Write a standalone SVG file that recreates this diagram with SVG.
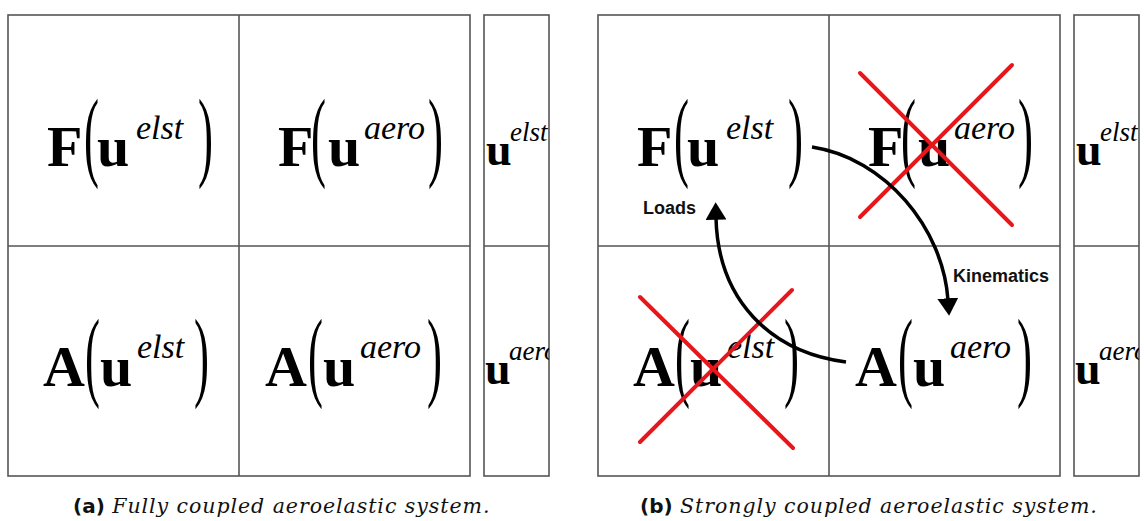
<svg xmlns="http://www.w3.org/2000/svg" width="1144" height="521" viewBox="0 0 1144 521">
<style>
.box{fill:#fff;stroke:#555;stroke-width:1.6}
.ln{stroke:#555;stroke-width:1.6;fill:none}
.big{font-family:"Liberation Serif","Times New Roman",serif;font-weight:bold;font-size:58px;fill:#000}
.sup{font-family:"Liberation Serif","Times New Roman",serif;font-style:italic;font-size:34px;fill:#000}
.par{font-family:"Liberation Serif","Times New Roman",serif;font-size:100px;fill:#000}
.ubig{font-family:"Liberation Serif","Times New Roman",serif;font-weight:bold;font-size:46px;fill:#000}
.usup{font-family:"Liberation Serif","Times New Roman",serif;font-style:italic;font-size:27px;fill:#000}
.x{stroke:#e8161b;stroke-width:4;stroke-linecap:round}
.arr{stroke:#000;stroke-width:3.5;fill:none}
.lbl{font-family:"Liberation Sans",Arial,sans-serif;font-weight:bold;font-size:18px;fill:#111}
.capb{font-family:"DejaVu Sans",sans-serif;font-weight:bold;font-size:20px;fill:#111}
.capi{font-family:"DejaVu Serif",serif;font-style:italic;font-size:20.5px;letter-spacing:0.95px;fill:#111}
</style>
<defs>
<marker id="ah" markerWidth="5" markerHeight="6" refX="0.5" refY="3" orient="auto" markerUnits="strokeWidth">
<path d="M0,0 L5,3 L0,6 Z" fill="#000"/>
</marker>
<clipPath id="ca"><rect x="484" y="246" width="65" height="230"/></clipPath>
<clipPath id="cb"><rect x="1074" y="246" width="65" height="230"/></clipPath>
</defs>

<!-- Panel (a) -->
<g id="panel-a-grid">
<rect class="box" x="8" y="15" width="462" height="461"/>
<line class="ln" x1="239" y1="15" x2="239" y2="476"/>
<line class="ln" x1="8" y1="246" x2="470" y2="246"/>
<rect class="box" x="484" y="15" width="65" height="461"/>
<line class="ln" x1="484" y1="246" x2="549" y2="246"/>
</g>
<g id="a-F-elst">
<text class="big" x="47" y="166">F</text>
<text class="par" transform="translate(84,168) scale(0.45,1)">(</text>
<text class="big" x="97" y="166">u</text>
<text class="sup" x="136" y="139">elst</text>
<text class="par" transform="translate(198,168) scale(0.45,1)">)</text>
</g>
<g id="a-F-aero">
<text class="big" x="278" y="166">F</text>
<text class="par" transform="translate(311,168) scale(0.45,1)">(</text>
<text class="big" x="328" y="166">u</text>
<text class="sup" x="364" y="139">aero</text>
<text class="par" transform="translate(428,168) scale(0.45,1)">)</text>
</g>
<g id="a-A-elst">
<text class="big" x="43" y="386">A</text>
<text class="par" transform="translate(85,388) scale(0.45,1)">(</text>
<text class="big" x="100" y="386">u</text>
<text class="sup" x="137" y="358">elst</text>
<text class="par" transform="translate(194,388) scale(0.45,1)">)</text>
</g>
<g id="a-A-aero">
<text class="big" x="265" y="386">A</text>
<text class="par" transform="translate(308,388) scale(0.45,1)">(</text>
<text class="big" x="323" y="386">u</text>
<text class="sup" x="360" y="358">aero</text>
<text class="par" transform="translate(427,388) scale(0.45,1)">)</text>
</g>
<g id="a-u-elst">
<text class="ubig" x="486" y="165">u</text>
<text class="usup" x="510" y="141">elst</text>
</g>
<g id="a-u-aero" clip-path="url(#ca)">
<text class="ubig" x="485" y="384">u</text>
<text class="usup" x="509" y="360">aero</text>
</g>

<!-- Panel (b) -->
<g id="panel-b-grid">
<rect class="box" x="598" y="15" width="462" height="461"/>
<line class="ln" x1="829" y1="15" x2="829" y2="476"/>
<line class="ln" x1="598" y1="246" x2="1060" y2="246"/>
<rect class="box" x="1074" y="15" width="65" height="461"/>
<line class="ln" x1="1074" y1="246" x2="1139" y2="246"/>
</g>
<g id="b-F-elst">
<text class="big" x="637" y="166">F</text>
<text class="par" transform="translate(674,168) scale(0.45,1)">(</text>
<text class="big" x="687" y="166">u</text>
<text class="sup" x="726" y="139">elst</text>
<text class="par" transform="translate(788,168) scale(0.45,1)">)</text>
</g>
<g id="b-F-aero">
<text class="big" x="868" y="166">F</text>
<text class="par" transform="translate(901,168) scale(0.45,1)">(</text>
<text class="big" x="918" y="166">u</text>
<text class="sup" x="954" y="139">aero</text>
<text class="par" transform="translate(1018,168) scale(0.45,1)">)</text>
<line class="x" x1="860" y1="73" x2="1012" y2="225"/>
<line class="x" x1="1012" y1="65" x2="860" y2="217"/>
</g>
<g id="b-A-elst">
<text class="big" x="633" y="386">A</text>
<text class="par" transform="translate(675,388) scale(0.45,1)">(</text>
<text class="big" x="690" y="386">u</text>
<text class="sup" x="727" y="358">elst</text>
<text class="par" transform="translate(784,388) scale(0.45,1)">)</text>
<line class="x" x1="640" y1="297" x2="793" y2="448"/>
<line class="x" x1="792" y1="290" x2="640" y2="442"/>
</g>
<g id="b-A-aero">
<text class="big" x="855" y="386">A</text>
<text class="par" transform="translate(898,388) scale(0.45,1)">(</text>
<text class="big" x="913" y="386">u</text>
<text class="sup" x="950" y="358">aero</text>
<text class="par" transform="translate(1017,388) scale(0.45,1)">)</text>
</g>
<g id="b-u-elst">
<text class="ubig" x="1076" y="165">u</text>
<text class="usup" x="1100" y="141">elst</text>
</g>
<g id="b-u-aero" clip-path="url(#cb)">
<text class="ubig" x="1075" y="384">u</text>
<text class="usup" x="1099" y="360">aero</text>
</g>

<g id="connectors">
<path class="arr" d="M812,147 C885,158 943,228 948,300" marker-end="url(#ah)"/>
<path class="arr" d="M846,362 C770,352 718,300 716,218" marker-end="url(#ah)"/>
<text class="lbl" x="643" y="214">Loads</text>
<text class="lbl" x="953" y="282">Kinematics</text>
</g>

<g id="captions">
<text x="73" y="513"><tspan class="capb">(a)</tspan><tspan class="capi"> Fully coupled aeroelastic system.</tspan></text>
<text x="640" y="513"><tspan class="capb">(b)</tspan><tspan class="capi"> Strongly coupled aeroelastic system.</tspan></text>
</g>
</svg>
